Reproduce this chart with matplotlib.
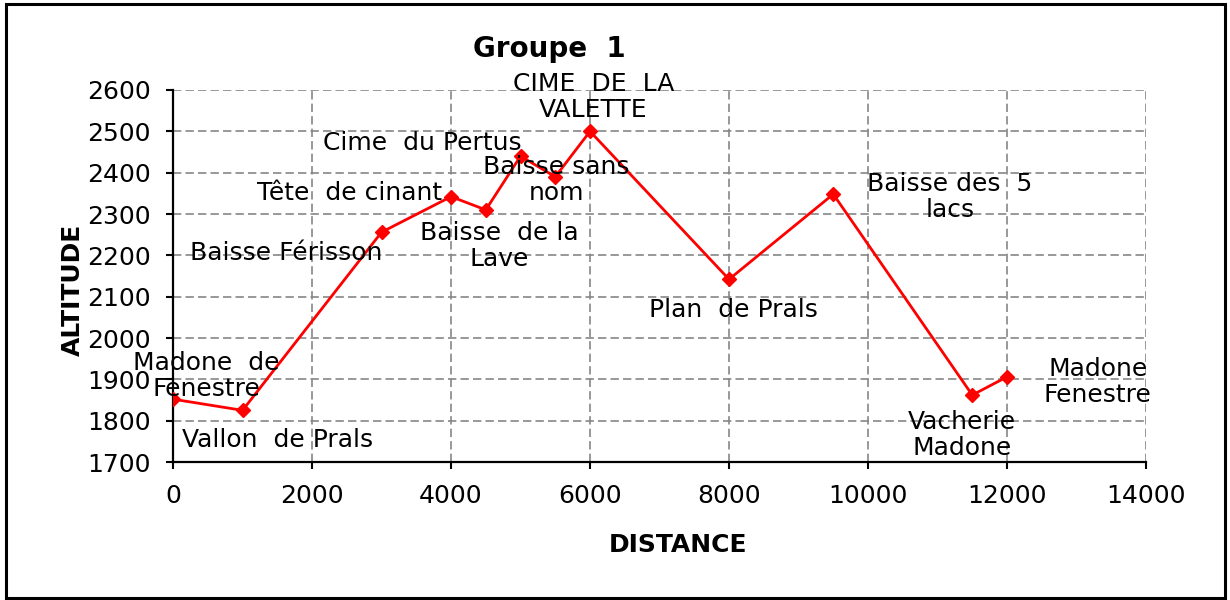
import matplotlib
matplotlib.use('Agg')
import matplotlib.pyplot as plt
from matplotlib.patches import Rectangle

# itinéraire : distance cumulée (m) et altitude (m)
distance = [0, 1000, 3000, 4000, 4500, 5000, 5500, 6000, 8000, 9500, 11500, 12000]
altitude = [1852, 1825, 2256, 2342, 2310, 2440, 2390, 2500, 2142, 2348, 1862, 1906]

# noms des points de passage, et position de chaque étiquette
noms = ['Madone  de\nFenestre', 'Vallon  de Prals', 'Baisse Férisson',
        'Tête  de cinant', 'Baisse  de la\nLave', 'Cime  du Pertus',
        'Baisse sans\nnom', 'CIME  DE  LA\nVALETTE', 'Plan  de Prals',
        'Baisse des  5\nlacs', 'Vacherie\nMadone', 'Madone\nFenestre']
noms_x = [484, 1498, 1628, 2535, 4695, 3586, 5516, 6049, 8066, 11177, 11350, 13308]
noms_y = [1908, 1753, 2206, 2351, 2222, 2472, 2382, 2583, 2068, 2341, 1765, 1894]

xticks = list(range(0, 14001, 2000))
yticks = list(range(1700, 2601, 100))

plt.rcParams['font.family'] = 'DejaVu Sans'

fig = plt.figure(figsize=(12.3, 6), dpi=100)
ax = fig.add_axes([0.1407, 0.23, 0.791, 0.62])

ax.plot(distance, altitude, color='#ff0000', lw=2, marker='D', ms=7.5,
        mec='#ff0000', mfc='#ff0000', zorder=3)

for nom, nx, ny in zip(noms, noms_x, noms_y):
    ax.text(nx, ny, nom, ha='center', va='center', fontsize=18,
            linespacing=1.1, color='black', zorder=4)

ax.set_xlim(0, 14000)
ax.set_ylim(1700, 2600)
ax.set_xticks(xticks)
ax.set_yticks(yticks)
ax.tick_params(axis='both', labelsize=18, length=5, width=1.5,
               direction='out', pad=11)

ax.grid(True, color='#868686', lw=1.2, linestyle=(0, (5, 2.5)))
ax.set_axisbelow(True)
for side in ['top', 'right']:
    ax.spines[side].set_visible(False)
for side in ['left', 'bottom']:
    ax.spines[side].set_linewidth(1.6)

fig.text(0.447, 0.918, 'Groupe  1', ha='center', va='center',
         fontsize=20, fontweight='bold')
fig.text(0.551, 0.092, 'DISTANCE', ha='center', va='center',
         fontsize=18, fontweight='bold')
fig.text(0.059, 0.517, 'ALTITUDE', ha='center', va='center',
         fontsize=18, fontweight='bold', rotation=90)

# cadre autour du graphique
fig.patches.append(Rectangle((0.005, 0.004), 0.991, 0.99, transform=fig.transFigure,
                             fill=False, edgecolor='black', lw=2.2))

fig.savefig('out.png', dpi=100)
